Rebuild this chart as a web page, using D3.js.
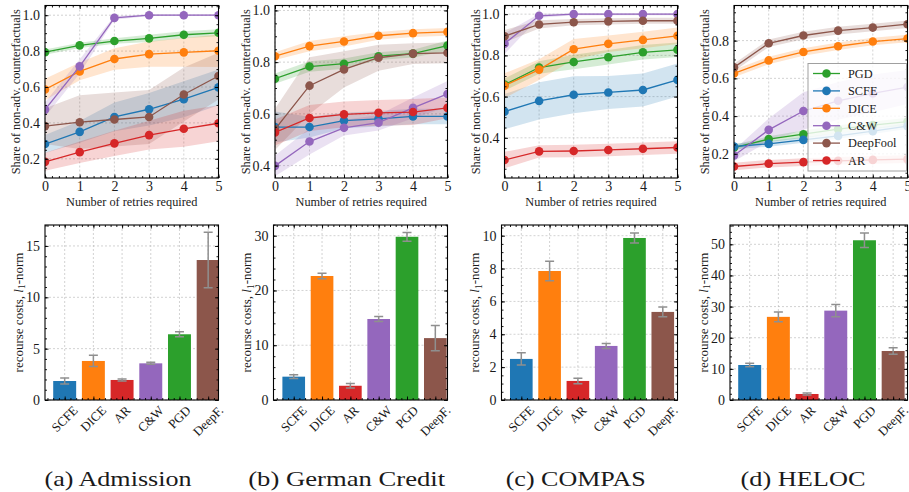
<!DOCTYPE html>
<html>
<head>
<meta charset="utf-8">
<script src="https://cdn.jsdelivr.net/npm/d3@7"></script>
<style>
  body { margin: 0; background: #fff; }
  svg text { font-family: "Liberation Serif", "Times New Roman", serif; fill: #1a1a1a; }
</style>
</head>
<body>
<svg id="fig" width="909" height="492"></svg>
<script>
// ---------- data ----------
const retries = [0, 1, 2, 3, 4, 5];
const lineMethods = ["PGD", "SCFE", "DICE", "C&W", "DeepFool", "AR"];
const barMethods = ["SCFE", "DICE", "AR", "C&W", "PGD", "DeepF."];
const captions = ["(a) Admission", "(b) German Credit", "(c) COMPAS", "(d) HELOC"];

// share of non-adversarial counterfactuals, rows follow lineMethods
const admissionShare = [
  [0.794, 0.832, 0.856, 0.871, 0.891, 0.902],
  [0.282, 0.350, 0.433, 0.476, 0.532, 0.598],
  [0.586, 0.687, 0.756, 0.783, 0.793, 0.802],
  [0.474, 0.715, 0.985, 1.000, 1.000, 1.000],
  [0.382, 0.404, 0.419, 0.433, 0.558, 0.661],
  [0.183, 0.237, 0.286, 0.332, 0.367, 0.398]
];
const admissionShareStd = [
  [0.015, 0.015, 0.015, 0.020, 0.020, 0.020],
  [0.050, 0.060, 0.080, 0.090, 0.100, 0.100],
  [0.060, 0.050, 0.060, 0.070, 0.080, 0.090],
  [0.040, 0.040, 0.010, 0.005, 0.005, 0.005],
  [0.100, 0.150, 0.150, 0.150, 0.150, 0.130],
  [0.050, 0.060, 0.070, 0.080, 0.100, 0.100]
];
const germanShare = [
  [0.736, 0.783, 0.794, 0.823, 0.833, 0.864],
  [0.549, 0.549, 0.574, 0.581, 0.590, 0.590],
  [0.823, 0.862, 0.880, 0.902, 0.912, 0.917],
  [0.399, 0.493, 0.546, 0.566, 0.623, 0.677],
  [0.540, 0.709, 0.772, 0.817, 0.833, 0.836],
  [0.528, 0.584, 0.598, 0.604, 0.607, 0.623]
];
const germanShareStd = [
  [0.020, 0.020, 0.020, 0.015, 0.015, 0.020],
  [0.060, 0.040, 0.030, 0.030, 0.030, 0.030],
  [0.015, 0.020, 0.020, 0.015, 0.015, 0.015],
  [0.040, 0.050, 0.030, 0.030, 0.040, 0.050],
  [0.080, 0.110, 0.070, 0.050, 0.040, 0.040],
  [0.050, 0.050, 0.050, 0.050, 0.050, 0.040]
];
const compasShare = [
  [0.658, 0.741, 0.768, 0.791, 0.815, 0.827],
  [0.527, 0.579, 0.609, 0.620, 0.632, 0.681],
  [0.653, 0.731, 0.830, 0.856, 0.875, 0.895],
  [0.857, 0.992, 1.000, 1.000, 1.000, 1.000],
  [0.893, 0.950, 0.961, 0.965, 0.968, 0.968],
  [0.292, 0.334, 0.336, 0.341, 0.347, 0.353]
];
const compasShareStd = [
  [0.030, 0.030, 0.035, 0.035, 0.035, 0.035],
  [0.085, 0.090, 0.090, 0.080, 0.080, 0.080],
  [0.060, 0.050, 0.050, 0.040, 0.040, 0.040],
  [0.050, 0.010, 0.005, 0.005, 0.005, 0.005],
  [0.030, 0.020, 0.015, 0.015, 0.015, 0.015],
  [0.040, 0.030, 0.030, 0.030, 0.030, 0.030]
];
const helocShare = [
  [0.233, 0.278, 0.304, 0.331, 0.352, 0.371],
  [0.239, 0.253, 0.274, 0.295, 0.320, 0.347],
  [0.626, 0.695, 0.740, 0.770, 0.795, 0.811],
  [0.191, 0.327, 0.427, 0.481, 0.520, 0.554],
  [0.658, 0.786, 0.827, 0.853, 0.869, 0.887],
  [0.133, 0.148, 0.156, 0.163, 0.168, 0.172]
];
const helocShareStd = [
  [0.015, 0.015, 0.020, 0.020, 0.020, 0.020],
  [0.015, 0.015, 0.015, 0.015, 0.015, 0.015],
  [0.020, 0.020, 0.020, 0.020, 0.020, 0.020],
  [0.030, 0.060, 0.100, 0.100, 0.100, 0.090],
  [0.020, 0.020, 0.020, 0.020, 0.020, 0.020],
  [0.020, 0.020, 0.020, 0.020, 0.020, 0.020]
];

// recourse costs (l1-norm), entries follow barMethods
const admissionCost = [1.85, 3.80, 1.95, 3.57, 6.40, 13.63];
const admissionCostErr = [0.30, 0.55, 0.10, 0.10, 0.25, 2.70];
const germanCost = [4.26, 22.64, 2.60, 14.79, 29.80, 11.30];
const germanCostErr = [0.35, 0.50, 0.40, 0.45, 0.80, 2.30];
const compasCost = [2.50, 7.85, 1.16, 3.29, 9.86, 5.36];
const compasCostErr = [0.37, 0.60, 0.17, 0.15, 0.30, 0.30];
const helocCost = [11.24, 26.70, 1.93, 28.70, 51.30, 15.74];
const helocCostErr = [0.55, 1.60, 0.30, 2.00, 2.30, 1.05];

// axis ticks
const retryTicks = [0, 1, 2, 3, 4, 5];
const shareTicks = [[0.2, 0.4, 0.6, 0.8, 1.0], [0.4, 0.6, 0.8, 1.0], [0.4, 0.6, 0.8, 1.0], [0.2, 0.4, 0.6, 0.8]];
const costTicks = [[0, 5, 10, 15], [0, 10, 20, 30], [0, 2, 4, 6, 8, 10], [0, 10, 20, 30, 40, 50]];

// ---------- style & layout ----------
const methodColor = {
  "PGD": "#2ca02c", "SCFE": "#1f77b4", "DICE": "#ff7f0e", "C&W": "#9467bd",
  "DeepFool": "#8c564b", "DeepF.": "#8c564b", "AR": "#d62728"
};
const shareData = [admissionShare, germanShare, compasShare, helocShare];
const shareStd = [admissionShareStd, germanShareStd, compasShareStd, helocShareStd];
const costData = [admissionCost, germanCost, compasCost, helocCost];
const costErr = [admissionCostErr, germanCostErr, compasCostErr, helocCostErr];

const topFrames = [[45, 218.5], [275, 447.5], [504.5, 677.5], [734, 907.5]];
const topRows = [5.5, 178];
const botFrames = [[45, 218.5], [273.5, 447.5], [501.5, 677.5], [730, 907.5]];
const botRows = [225, 400];
const shareDomains = [[0.093, 1.054], [0.352, 1.019], [0.205, 1.042], [0.072, 0.986]];
const costDomains = [[0, 17.04], [0, 31.95], [0, 10.65], [0, 56.2]];
const barDomains = [[-0.686, 5.36], [-0.714, 5.43], [-0.70, 5.52], [-0.686, 5.5]];
const costMinorStep = [1, 2, 0.5, 2];
const captionX = [118, 346.7, 575.7, 803];
const captionW = [147, 197, 140, 125];

const tickFs = 14, labelFs = 12.3, costLabelFs = 13, barLabelFs = 12.8, captionFs = 22;
const majorLen = 3.5, minorLen = 2;

const svg = d3.select("#fig");
svg.append("rect").attr("width", 909).attr("height", 492).attr("fill", "#fff");
const defs = svg.append("defs");

function range(a, b, step) {
  const out = [];
  const n = Math.round((b - a) / step);
  for (let i = 0; i <= n; i++) out.push(+(a + i * step).toFixed(6));
  return out;
}

// draws ticks on all four sides (inward), gridlines and the frame
function frameAxes(g, x, y, xMajor, xMinor, yMajor, yMinor, xFmt, yFmt, showXLabels) {
  const [x0, x1] = x.range();
  const [y1, y0] = y.range();
  const w = x1 - x0, h = y1 - y0;
  const grid = g.append("g").attr("class", "grid");
  grid.selectAll("line.gx").data(xMajor).join("line")
    .attr("x1", d => x(d)).attr("x2", d => x(d)).attr("y1", y0).attr("y2", y1)
    .attr("stroke", "#b4b4b4").attr("stroke-width", 0.6).attr("stroke-dasharray", "2,2");
  grid.selectAll("line.gy").data(yMajor).join("line")
    .attr("y1", d => y(d)).attr("y2", d => y(d)).attr("x1", x0).attr("x2", x1)
    .attr("stroke", "#b4b4b4").attr("stroke-width", 0.6).attr("stroke-dasharray", "2,2");
  return function finish() {
    const clean = sel => { sel.select(".domain").remove(); sel.attr("font-family", null).attr("font-size", tickFs).attr("color", "#000"); };
    // bottom
    g.append("g").attr("transform", `translate(0,${y1})`)
      .call(d3.axisBottom(x).tickValues(xMinor).tickSize(-minorLen).tickFormat("")).call(clean);
    const bx = g.append("g").attr("transform", `translate(0,${y1})`)
      .call(d3.axisBottom(x).tickValues(xMajor).tickSize(-majorLen).tickPadding(3)
        .tickFormat(showXLabels ? xFmt : "")).call(clean);
    // top
    g.append("g").attr("transform", `translate(0,${y0})`)
      .call(d3.axisTop(x).tickValues(xMinor).tickSize(-minorLen).tickFormat("")).call(clean);
    g.append("g").attr("transform", `translate(0,${y0})`)
      .call(d3.axisTop(x).tickValues(xMajor).tickSize(-majorLen).tickFormat("")).call(clean);
    // left
    g.append("g").attr("transform", `translate(${x0},0)`)
      .call(d3.axisLeft(y).tickValues(yMinor).tickSize(-minorLen).tickFormat("")).call(clean);
    g.append("g").attr("transform", `translate(${x0},0)`)
      .call(d3.axisLeft(y).tickValues(yMajor).tickSize(-majorLen).tickPadding(5).tickFormat(yFmt)).call(clean);
    // right
    g.append("g").attr("transform", `translate(${x1},0)`)
      .call(d3.axisRight(y).tickValues(yMinor).tickSize(-minorLen).tickFormat("")).call(clean);
    g.append("g").attr("transform", `translate(${x1},0)`)
      .call(d3.axisRight(y).tickValues(yMajor).tickSize(-majorLen).tickFormat("")).call(clean);
    g.selectAll(".tick line").attr("stroke-width", 0.9);
    g.append("rect").attr("x", x0).attr("y", y0).attr("width", w).attr("height", h)
      .attr("fill", "none").attr("stroke", "#000").attr("stroke-width", 1.1);
    return bx;
  };
}

// ---------- top row: share of non-adversarial counterfactuals ----------
for (let p = 0; p < 4; p++) {
  const g = svg.append("g");
  const x = d3.scaleLinear().domain([0, 5]).range(topFrames[p]);
  const y = d3.scaleLinear().domain(shareDomains[p]).range([topRows[1], topRows[0]]);
  const yMinor = range(Math.ceil(shareDomains[p][0] / 0.05) * 0.05, shareDomains[p][1], 0.05)
    .filter(v => v <= shareDomains[p][1]);
  const finish = frameAxes(g, x, y, retryTicks, range(0, 5, 0.2), shareTicks[p], yMinor,
    d3.format("d"), d3.format(".1f"), true);

  const clipId = "clipTop" + p;
  defs.append("clipPath").attr("id", clipId).append("rect")
    .attr("x", topFrames[p][0]).attr("y", topRows[0])
    .attr("width", topFrames[p][1] - topFrames[p][0]).attr("height", topRows[1] - topRows[0]);
  const plot = g.append("g").attr("clip-path", `url(#${clipId})`);

  const area = d3.area().x((d, i) => x(retries[i])).y0(d => y(d[0] - d[1])).y1(d => y(d[0] + d[1]));
  const line = d3.line().x((d, i) => x(retries[i])).y(d => y(d));

  lineMethods.forEach((m, k) => {
    const pts = shareData[p][k].map((v, i) => [v, shareStd[p][k][i]]);
    plot.append("path").attr("d", area(pts)).attr("fill", methodColor[m]).attr("fill-opacity", 0.2);
  });
  lineMethods.forEach((m, k) => {
    plot.append("path").attr("d", line(shareData[p][k])).attr("fill", "none")
      .attr("stroke", methodColor[m]).attr("stroke-width", 1.3);
    plot.selectAll(null).data(shareData[p][k]).join("circle")
      .attr("cx", (d, i) => x(retries[i])).attr("cy", d => y(d)).attr("r", 4.3)
      .attr("fill", methodColor[m]);
  });
  finish();

  g.append("text").attr("text-anchor", "middle").attr("font-size", labelFs)
    .attr("x", (topFrames[p][0] + topFrames[p][1]) / 2).attr("y", 205.5)
    .text("Number of retries required");
  g.append("text").attr("text-anchor", "middle").attr("font-size", labelFs)
    .attr("transform", `translate(${topFrames[p][0] - 25},${(topRows[0] + topRows[1]) / 2}) rotate(-90)`)
    .text("Share of non-adv. counterfactuals");

  if (p === 3) {
    // legend
    const lg = g.append("g");
    lg.append("rect").attr("x", 808).attr("y", 63.5).attr("width", 98.5).attr("height", 107.5)
      .attr("fill", "#fff").attr("fill-opacity", 0.8).attr("stroke", "#a0a0a0").attr("stroke-width", 1);
    lineMethods.forEach((m, k) => {
      const ly = 73.5 + k * 17.4;
      lg.append("line").attr("x1", 813).attr("x2", 840).attr("y1", ly).attr("y2", ly)
        .attr("stroke", methodColor[m]).attr("stroke-width", 1.3);
      lg.append("circle").attr("cx", 826.5).attr("cy", ly).attr("r", 4.3).attr("fill", methodColor[m]);
      lg.append("text").attr("x", 848).attr("y", ly + 4.3).attr("font-size", labelFs).text(m);
    });
  }
}

// ---------- bottom row: recourse costs ----------
for (let p = 0; p < 4; p++) {
  const g = svg.append("g");
  const x = d3.scaleLinear().domain(barDomains[p]).range(botFrames[p]);
  const y = d3.scaleLinear().domain(costDomains[p]).range([botRows[1], botRows[0]]);
  const idx = barMethods.map((_, i) => i);
  const xMinor = range(-0.6, 5.4, 0.2).filter(v => v >= barDomains[p][0] && v <= barDomains[p][1]);
  const yMinor = range(0, costDomains[p][1], costMinorStep[p]);
  const finish = frameAxes(g, x, y, idx, xMinor, costTicks[p], yMinor, () => "", d3.format("d"), false);

  const clipId = "clipBot" + p;
  defs.append("clipPath").attr("id", clipId).append("rect")
    .attr("x", botFrames[p][0]).attr("y", botRows[0])
    .attr("width", botFrames[p][1] - botFrames[p][0]).attr("height", botRows[1] - botRows[0]);
  const plot = g.append("g").attr("clip-path", `url(#${clipId})`);

  plot.selectAll("rect.bar").data(costData[p]).join("rect")
    .attr("x", (d, i) => x(i - 0.4)).attr("width", (d, i) => x(i + 0.4) - x(i - 0.4))
    .attr("y", d => y(d)).attr("height", d => y(0) - y(d))
    .attr("fill", (d, i) => methodColor[barMethods[i]]);

  const err = plot.selectAll("g.err").data(costData[p]).join("g");
  err.append("line").attr("x1", (d, i) => x(i)).attr("x2", (d, i) => x(i))
    .attr("y1", (d, i) => y(d - costErr[p][i])).attr("y2", (d, i) => y(d + costErr[p][i]));
  err.append("line").attr("x1", (d, i) => x(i) - 4.5).attr("x2", (d, i) => x(i) + 4.5)
    .attr("y1", (d, i) => y(d - costErr[p][i])).attr("y2", (d, i) => y(d - costErr[p][i]));
  err.append("line").attr("x1", (d, i) => x(i) - 4.5).attr("x2", (d, i) => x(i) + 4.5)
    .attr("y1", (d, i) => y(d + costErr[p][i])).attr("y2", (d, i) => y(d + costErr[p][i]));
  err.selectAll("line").attr("stroke", "#8f8f8f").attr("stroke-width", 1.5);

  finish();

  // rotated category labels, centred under each bar
  barMethods.forEach((m, i) => {
    const t = g.append("text").attr("text-anchor", "middle").attr("font-size", barLabelFs)
      .attr("dy", "0.33em").text(m);
    const L = t.node().getComputedTextLength();
    const cy = 405 + (L + 0.7 * barLabelFs) * 0.3536;
    t.attr("transform", `translate(${x(i)},${cy}) rotate(-45)`);
  });

  const yl = g.append("text").attr("text-anchor", "middle").attr("font-size", costLabelFs)
    .attr("transform", `translate(${botFrames[p][0] - 22.5},${(botRows[0] + botRows[1]) / 2}) rotate(-90)`);
  yl.append("tspan").text("recourse costs, ");
  yl.append("tspan").attr("font-style", "italic").text("l");
  yl.append("tspan").attr("font-size", costLabelFs * 0.72).attr("dy", 2.5).text("1");
  yl.append("tspan").attr("dy", -2.5).text("-norm");

  g.append("text").attr("text-anchor", "middle").attr("font-size", captionFs)
    .attr("x", captionX[p]).attr("y", 485.5)
    .attr("textLength", captionW[p]).attr("lengthAdjust", "spacingAndGlyphs")
    .text(captions[p]);
}
</script>
</body>
</html>
